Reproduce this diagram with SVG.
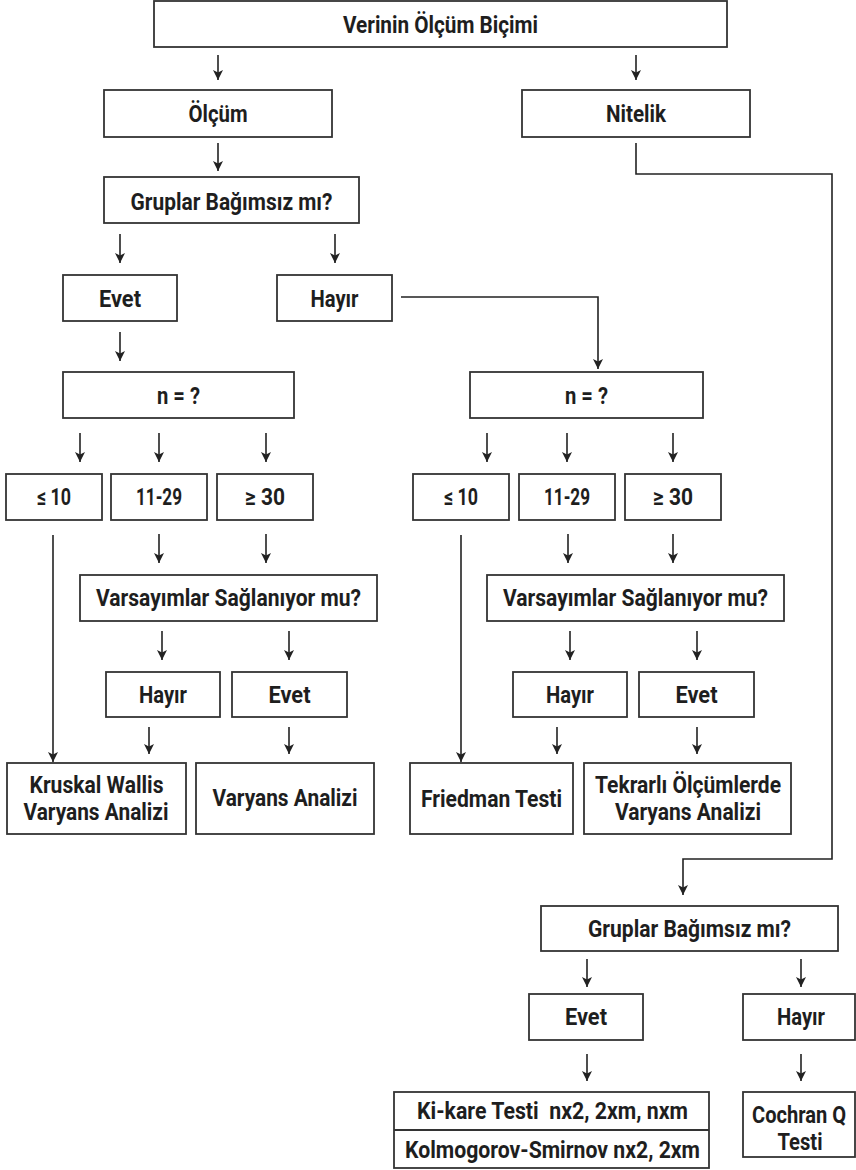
<svg xmlns="http://www.w3.org/2000/svg" width="856" height="1170" viewBox="0 0 856 1170">
<style>
.box{fill:#fff;stroke:#333;stroke-width:1.8}
.t{font-family:Roboto,"Liberation Sans",sans-serif;font-weight:700;font-size:24px;fill:#1e1e1e;text-anchor:middle}
.c{fill:none;stroke:#222;stroke-width:1.6;marker-end:url(#ah)}
</style>
<defs>
<marker id="ah" markerUnits="userSpaceOnUse" markerWidth="11" markerHeight="11" refX="10" refY="5" orient="auto">
<path d="M0,0 L10,5 L0,10 L2.5,5 z" fill="#222"/>
</marker>
</defs>
<rect width="856" height="1170" fill="#fff"/>
<g id="connectors">
<path class="c" d="M218,55 V80"/>
<path class="c" d="M636,55 V80"/>
<path class="c" d="M218,143 V171"/>
<path class="c" d="M636,143 V174 H832 V859 H683 V895"/>
<path class="c" d="M120,234 V263"/>
<path class="c" d="M335,234 V263"/>
<path class="c" d="M401,297 H598 V369"/>
<path class="c" d="M120,332 V361"/>
<path class="c" d="M80,433 V462"/>
<path class="c" d="M159,433 V462"/>
<path class="c" d="M266,433 V462"/>
<path class="c" d="M487,433 V462"/>
<path class="c" d="M567,433 V462"/>
<path class="c" d="M673,433 V462"/>
<path class="c" d="M53,535 V762"/>
<path class="c" d="M461,535 V762"/>
<path class="c" d="M159,534 V563"/>
<path class="c" d="M266,534 V563"/>
<path class="c" d="M568,534 V563"/>
<path class="c" d="M673,534 V563"/>
<path class="c" d="M162,631 V660"/>
<path class="c" d="M289,631 V660"/>
<path class="c" d="M570,631 V660"/>
<path class="c" d="M697,631 V660"/>
<path class="c" d="M149,727 V754"/>
<path class="c" d="M289,727 V754"/>
<path class="c" d="M557,727 V754"/>
<path class="c" d="M697,727 V754"/>
<path class="c" d="M587,959 V987"/>
<path class="c" d="M801,959 V987"/>
<path class="c" d="M587,1054 V1081"/>
<path class="c" d="M801,1054 V1081"/>
</g>
<g id="n-root"><rect class="box" x="154" y="1" width="573" height="46"/><text class="t" x="440.5" y="33" textLength="195" lengthAdjust="spacingAndGlyphs">Verinin Ölçüm Biçimi</text></g>
<g id="n-olcum"><rect class="box" x="104" y="90" width="228" height="47"/><text class="t" x="218" y="122" textLength="59" lengthAdjust="spacingAndGlyphs">Ölçüm</text></g>
<g id="n-nitelik"><rect class="box" x="522" y="90" width="228" height="47"/><text class="t" x="636" y="122" textLength="60" lengthAdjust="spacingAndGlyphs">Nitelik</text></g>
<g id="n-gruplar1"><rect class="box" x="104" y="177" width="255" height="46"/><text class="t" x="231.5" y="210" textLength="202" lengthAdjust="spacingAndGlyphs">Gruplar Bağımsız mı?</text></g>
<g id="n-evet1"><rect class="box" x="63" y="275" width="114" height="46"/><text class="t" x="120" y="307" textLength="42" lengthAdjust="spacingAndGlyphs">Evet</text></g>
<g id="n-hayir1"><rect class="box" x="277" y="275" width="115" height="46"/><text class="t" x="334.5" y="307" textLength="48" lengthAdjust="spacingAndGlyphs">Hayır</text></g>
<g id="n-nL"><rect class="box" x="63" y="372" width="231" height="46"/><text class="t" x="178.5" y="404" textLength="43" lengthAdjust="spacingAndGlyphs">n = ?</text></g>
<g id="n-nR"><rect class="box" x="470" y="372" width="233" height="46"/><text class="t" x="586.5" y="404" textLength="43" lengthAdjust="spacingAndGlyphs">n = ?</text></g>
<g id="n-le10L"><rect class="box" x="6" y="474" width="96" height="46"/><text class="t" x="54" y="505" textLength="34" lengthAdjust="spacingAndGlyphs">≤ 10</text></g>
<g id="n-1129L"><rect class="box" x="111" y="474" width="96" height="46"/><text class="t" x="159" y="505" textLength="46" lengthAdjust="spacingAndGlyphs">11-29</text></g>
<g id="n-ge30L"><rect class="box" x="217" y="474" width="96" height="46"/><text class="t" x="265" y="505" textLength="40" lengthAdjust="spacingAndGlyphs">≥ 30</text></g>
<g id="n-le10R"><rect class="box" x="413" y="474" width="96" height="46"/><text class="t" x="461" y="505" textLength="34" lengthAdjust="spacingAndGlyphs">≤ 10</text></g>
<g id="n-1129R"><rect class="box" x="519" y="474" width="96" height="46"/><text class="t" x="567" y="505" textLength="46" lengthAdjust="spacingAndGlyphs">11-29</text></g>
<g id="n-ge30R"><rect class="box" x="625" y="474" width="96" height="46"/><text class="t" x="673" y="505" textLength="40" lengthAdjust="spacingAndGlyphs">≥ 30</text></g>
<g id="n-varsL"><rect class="box" x="80" y="575" width="297" height="46"/><text class="t" x="228.5" y="606" textLength="265" lengthAdjust="spacingAndGlyphs">Varsayımlar Sağlanıyor mu?</text></g>
<g id="n-varsR"><rect class="box" x="487" y="575" width="297" height="46"/><text class="t" x="635.5" y="606" textLength="265" lengthAdjust="spacingAndGlyphs">Varsayımlar Sağlanıyor mu?</text></g>
<g id="n-hayirL"><rect class="box" x="106" y="672" width="114" height="45"/><text class="t" x="163" y="703" textLength="48" lengthAdjust="spacingAndGlyphs">Hayır</text></g>
<g id="n-evetL"><rect class="box" x="232" y="672" width="115" height="45"/><text class="t" x="289.5" y="703" textLength="42" lengthAdjust="spacingAndGlyphs">Evet</text></g>
<g id="n-hayirR"><rect class="box" x="513" y="672" width="114" height="45"/><text class="t" x="570" y="703" textLength="48" lengthAdjust="spacingAndGlyphs">Hayır</text></g>
<g id="n-evetR"><rect class="box" x="639" y="672" width="115" height="45"/><text class="t" x="696.5" y="703" textLength="42" lengthAdjust="spacingAndGlyphs">Evet</text></g>
<g id="n-kruskal"><rect class="box" x="7" y="763" width="179" height="71"/><text class="t" x="96.5" y="793" textLength="134" lengthAdjust="spacingAndGlyphs">Kruskal Wallis</text><text class="t" x="96" y="820" textLength="145" lengthAdjust="spacingAndGlyphs">Varyans Analizi</text></g>
<g id="n-varyans"><rect class="box" x="196" y="763" width="178" height="71"/><text class="t" x="285" y="806" textLength="145" lengthAdjust="spacingAndGlyphs">Varyans Analizi</text></g>
<g id="n-friedman"><rect class="box" x="410" y="763" width="163" height="71"/><text class="t" x="491.5" y="807" textLength="141" lengthAdjust="spacingAndGlyphs">Friedman Testi</text></g>
<g id="n-tekrarli"><rect class="box" x="584" y="763" width="207" height="71"/><text class="t" x="688" y="793" textLength="186" lengthAdjust="spacingAndGlyphs">Tekrarlı Ölçümlerde</text><text class="t" x="688" y="820" textLength="146" lengthAdjust="spacingAndGlyphs">Varyans Analizi</text></g>
<g id="n-gruplar2"><rect class="box" x="541" y="906" width="297" height="45"/><text class="t" x="689.5" y="937" textLength="203" lengthAdjust="spacingAndGlyphs">Gruplar Bağımsız mı?</text></g>
<g id="n-evet2"><rect class="box" x="529" y="994" width="114" height="46"/><text class="t" x="586" y="1025" textLength="42" lengthAdjust="spacingAndGlyphs">Evet</text></g>
<g id="n-hayir2"><rect class="box" x="743" y="994" width="112" height="46"/><text class="t" x="801" y="1025" textLength="48" lengthAdjust="spacingAndGlyphs">Hayır</text></g>
<g id="n-kikare"><rect class="box" x="394" y="1092" width="315" height="76"/><line x1="394" y1="1130" x2="709" y2="1130" stroke="#333" stroke-width="1.8"/><text class="t" x="552.5" y="1119" textLength="271" lengthAdjust="spacingAndGlyphs" xml:space="preserve">Ki-kare Testi  nx2, 2xm, nxm</text><text class="t" x="552.5" y="1158" textLength="295" lengthAdjust="spacingAndGlyphs">Kolmogorov-Smirnov nx2, 2xm</text></g>
<g id="n-cochran"><rect class="box" x="743" y="1092" width="112" height="65"/><text class="t" x="799" y="1123" textLength="94" lengthAdjust="spacingAndGlyphs">Cochran Q</text><text class="t" x="800" y="1150" textLength="45" lengthAdjust="spacingAndGlyphs">Testi</text></g>
</svg>
